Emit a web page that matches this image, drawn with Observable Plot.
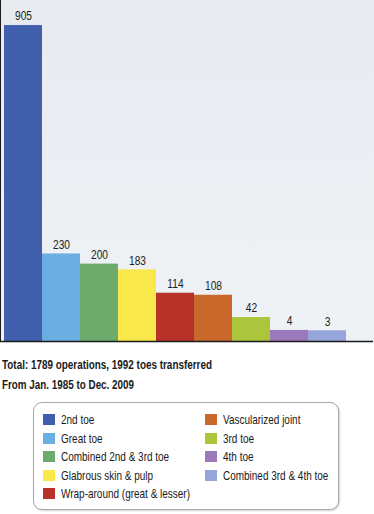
<!DOCTYPE html>
<html>
<head>
<meta charset="utf-8">
<script src="https://cdn.jsdelivr.net/npm/d3@7"></script>
<script src="https://cdn.jsdelivr.net/npm/@observablehq/plot@0.6"></script>
<style>
  html, body { margin: 0; padding: 0; background: #fff; }
  body { width: 374px; height: 514px; overflow: hidden; font-family: "Liberation Sans", Arial, sans-serif; color: #1a1a1a; }
  #chart { width: 372.5px; border-left: 1.5px solid #1a1a1a; background: linear-gradient(#e7ebf0, #eff2f5); }
  #chart svg { display: block; }
  .note { margin: 13px 0 0 2px; font-weight: bold; font-size: 12.5px; line-height: 20px; }
  .note div { height: 20px; }
  .note span { display: inline-block; white-space: nowrap; transform-origin: 0 50%; }
  .legend { position: absolute; left: 33px; top: 402px; width: 306px; height: 108px; box-sizing: border-box;
            border: 1px solid #a8a8a8; border-radius: 9px; box-shadow: 1px 1px 2px rgba(0,0,0,0.18); background: #fff; }
  .item { position: absolute; font-size: 13px; height: 18px; line-height: 18px; white-space: nowrap; }
  .sw { position: absolute; left: 0; top: 3px; width: 12px; height: 11px; }
  .lab { position: absolute; left: 18px; top: 0; transform-origin: 0 50%; }
</style>
</head>
<body>
<div id="chart"></div>
<div class="note" id="note"></div>
<div class="legend" id="legend"></div>
<script>
const categories = ["2nd toe", "Great toe", "Combined 2nd & 3rd toe", "Glabrous skin & pulp", "Wrap-around (great & lesser)", "Vascularized joint", "3rd toe", "4th toe", "Combined 3rd & 4th toe"];
const values = [905, 230, 200, 183, 114, 108, 42, 4, 3];
const colors = ["#4060ae", "#6aaee2", "#6dab6c", "#f8e84a", "#b8322a", "#c96a2c", "#abc53c", "#9b79ba", "#97a6da"];
const notes = ["Total: 1789 operations, 1992 toes transferred", "From Jan. 1985 to Dec. 2009"];
const yFloor = -28.7;
const yTop = 979;

const data = categories.map((c, i) => ({category: c, value: values[i], color: colors[i]}));

const plot = Plot.plot({
  width: 372,
  height: 342,
  marginTop: 0,
  marginBottom: 1,
  marginLeft: 0,
  marginRight: 24,
  style: {background: "transparent", fontFamily: "'Liberation Sans', Arial, sans-serif", overflow: "visible"},
  x: {domain: categories, padding: 0, axis: null},
  y: {domain: [yFloor, yTop], axis: null},
  marks: [
    Plot.barY(data, {x: "category", y1: yFloor, y2: "value", fill: "color", inset: 0}),
    Plot.text(data, {x: "category", y: "value", text: d => String(d.value), dy: -9, fontSize: 12, fill: "#222"}),
    Plot.ruleY([yFloor], {stroke: "#1a1a1a", strokeWidth: 1.5, insetLeft: -2, insetRight: -24})
  ]
});
// condense value labels to mimic the narrow typeface of the original
d3.select(plot).selectAll("g[aria-label='text'] text").each(function() {
  const t = this.getAttribute("transform") || "";
  this.setAttribute("transform", t + " scale(0.85,1)");
});
document.getElementById("chart").appendChild(plot);

// notes, condensed to the widths of the original narrow typeface
const noteWidths = [210, 132];
const note = document.getElementById("note");
notes.forEach((t, i) => {
  const d = document.createElement("div");
  const s = document.createElement("span");
  s.textContent = t;
  d.appendChild(s);
  note.appendChild(d);
  const w = s.getBoundingClientRect().width;
  s.style.transform = `scaleX(${noteWidths[i] / w})`;
});

const legend = document.getElementById("legend");
const labs = [];
categories.forEach((c, i) => {
  const col = i < 5 ? 0 : 1;
  const row = i < 5 ? i : i - 5;
  const item = document.createElement("div");
  item.className = "item";
  item.style.left = (9 + col * 162) + "px";
  item.style.top = (8 + row * 18.5) + "px";
  const sw = document.createElement("div");
  sw.className = "sw";
  sw.style.background = colors[i];
  const lab = document.createElement("div");
  lab.className = "lab";
  lab.textContent = c;
  item.appendChild(sw);
  item.appendChild(lab);
  legend.appendChild(item);
  labs.push(lab);
});
// "Wrap-around (great & lesser)" spans about 129px in the original
const refW = labs[4].getBoundingClientRect().width;
const k = 129 / refW;
labs.forEach(l => l.style.transform = `scaleX(${k})`);
</script>
</body>
</html>
